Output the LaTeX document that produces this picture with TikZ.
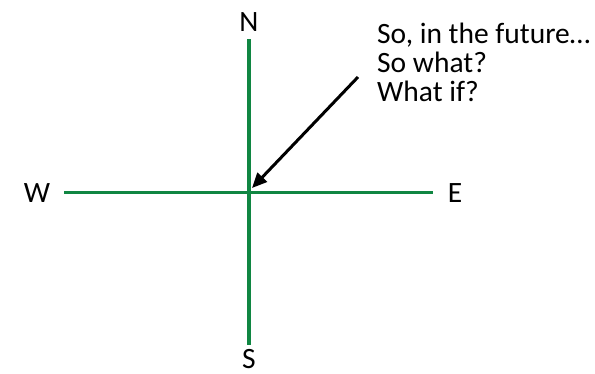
\documentclass[tikz,border=0pt]{standalone}
\usepackage{fontspec}
\setmainfont{Carlito}
\usepackage{xcolor}
\usepackage{tikz}
\usetikzlibrary{positioning,arrows.meta}
\definecolor{compassgreen}{RGB}{16,134,66}

\begin{document}
\begin{tikzpicture}[x=1pt,y=-1pt,every node/.style={font=\fontsize{29.5}{30}\selectfont,inner sep=0pt},
  axis/.style={compassgreen,line width=3.8pt},
  pointer/.style={-{Triangle[length=15pt,width=13pt]},line width=3pt}]
  \useasboundingbox (0,0) rectangle (595,373);
  % compass letters
  \node (N) at (249,22.5) {N};
  \node (S) at (249,359) {S};
  \node (W) at (37,193.5) {W};
  \node (E) at (455,193.5) {E};
  \coordinate (top) at (249,39);
  \coordinate (bot) at (249,345);
  \coordinate (left) at (64,192.5);
  \coordinate (right) at (433,192.5);
  \draw[axis] (top)--(bot);
  \draw[axis] (left)--(right);
  % questions and the arrow into the middle
  \node[anchor=base west] (future) at (377,43) {So, in the future…};
  \node[anchor=base west] (sowhat) at (377,72) {So what?};
  \node[anchor=base west] (whatif) at (377,101) {What if?};
  \coordinate (tail) at (358,77);
  \coordinate (tip) at (252,188);
  \draw[pointer] (tail)--(tip);
\end{tikzpicture}
\end{document}
